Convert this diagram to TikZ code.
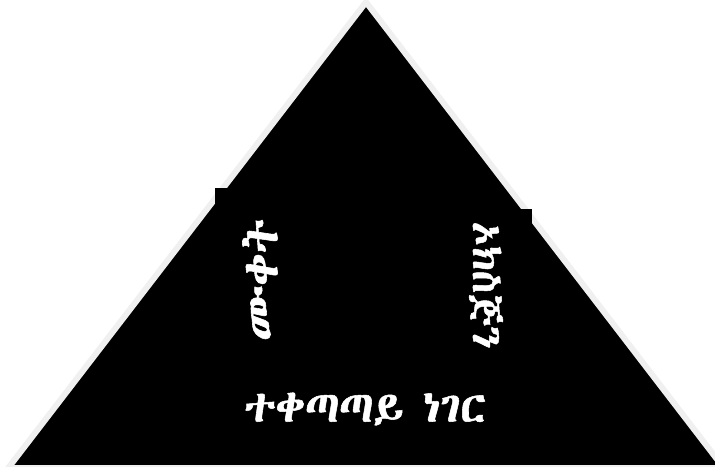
\documentclass[tikz,border=0pt]{standalone}
\usepackage{fontspec}
\newfontfamily\ethfont{Abyssinica SIL}[AutoFakeBold=1.2]
\tikzset{
  lbl/.style={text=white, font=\ethfont\bfseries\fontsize{44}{50}\selectfont, inner sep=0pt},
  tri/.style={fill=black, draw={rgb,255:red,240;green,240;blue,240}, line width=6pt, line join=miter},
}
\begin{document}
\begin{tikzpicture}[x=1pt,y=-1pt]
\useasboundingbox (0,0) rectangle (715,466);
\coordinate (apex) at (366,2.1);
\coordinate (bl) at (8.2,468);
\coordinate (br) at (723.8,468);
\draw[tri] (apex) -- (bl) -- (br) -- cycle;
\fill[black] (215,188) rectangle (300,345);
\fill[black] (440,209) rectangle (532,360);
\node[lbl, rotate=90, font=\ethfont\bfseries\fontsize{48}{54}\selectfont] (heat) at (260,280) {ሙቀት};
\node[lbl, rotate=-90, font=\ethfont\bfseries\fontsize{41}{47}\selectfont] (oxy) at (486,285) {ኦክስጅን};
\node[lbl] (fuel) at (365,409) {ተቀጣጣይ\hspace{0.45em}ነገር};
\end{tikzpicture}
\end{document}
